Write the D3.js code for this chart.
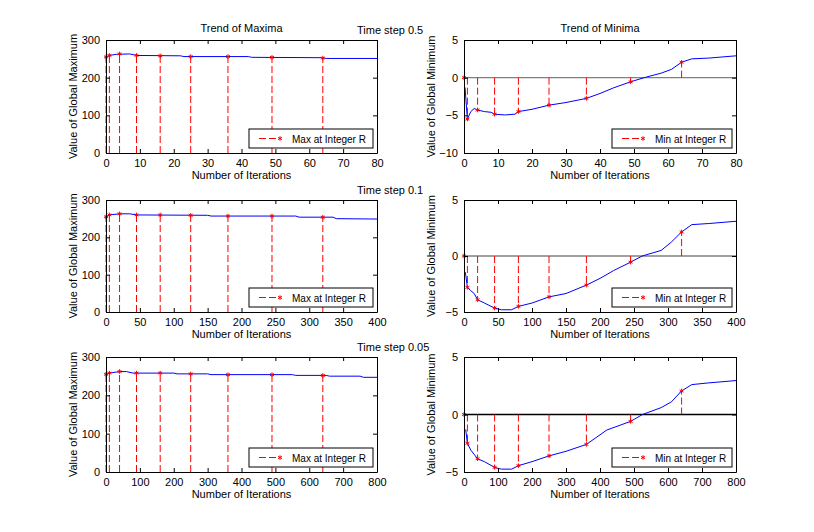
<!DOCTYPE html>
<html>
<head>
<meta charset="utf-8">
<script src="https://cdn.jsdelivr.net/npm/d3@7"></script>
<style>
  body { margin: 0; background: #fff; }
  svg { font-family: "Liberation Sans", Arial, sans-serif; }
</style>
</head>
<body>
<svg id="chart" width="814" height="532"></svg>
<script>
// ---- data ----
const stepLabels = ["Time step 0.5", "Time step 0.1", "Time step 0.05"];
const xMaxes = [80, 400, 800];
const xTickSteps = [10, 50, 100];

// blue curves, maxima
const maxX05 = [0, 1, 3, 7, 9, 22, 23, 42, 43, 64, 65, 80];
const maxY05 = [254, 259, 262, 263, 259, 258, 256, 256, 254, 253, 251, 251];
const maxX01 = [0, 5, 20, 35, 45, 150, 155, 280, 285, 335, 340, 400];
const maxY01 = [254, 260, 263, 263, 260, 259, 257, 257, 254, 254, 250, 249];
const maxX005 = [0, 10, 40, 60, 80, 200, 210, 300, 310, 550, 560, 650, 660, 750, 760, 800];
const maxY005 = [254, 258, 262, 262, 258, 258, 256, 256, 254, 254, 252, 252, 250, 250, 247, 247];

// blue curves, minima
const minX05 = [0.3, 1, 2, 3, 4, 6, 8, 9, 12, 15, 16, 20, 25, 30, 36, 40, 44, 49, 53, 58, 61, 64, 67, 72, 80];
const minY05 = [-1.3, -5.5, -4.5, -4.1, -4.3, -4.5, -4.6, -4.85, -4.95, -4.85, -4.5, -4.2, -3.65, -3.3, -2.75, -2.1, -1.35, -0.55, 0, 0.6, 1.1, 2.05, 2.5, 2.6, 2.9];
const minX01 = [2, 5, 10, 15, 20, 30, 45, 55, 70, 80, 100, 125, 150, 180, 200, 220, 245, 262, 290, 305, 320, 335, 360, 400];
const minY01 = [-1.45, -2.8, -3.1, -3.35, -3.9, -4.2, -4.65, -4.8, -4.8, -4.5, -4.2, -3.65, -3.35, -2.6, -2.0, -1.3, -0.55, 0, 0.5, 1.25, 2.15, 2.8, 2.9, 3.1];
const minX005 = [5, 10, 20, 40, 60, 90, 110, 140, 160, 200, 250, 300, 360, 420, 490, 525, 580, 610, 640, 670, 720, 800];
const minY005 = [-1.3, -2.5, -3.1, -3.85, -4.1, -4.6, -4.75, -4.75, -4.45, -4.1, -3.6, -3.2, -2.6, -1.35, -0.6, 0, 0.6, 1.1, 2.05, 2.6, 2.75, 2.95];

// red stems at integer R
const stemX05 = [0, 1, 4, 9, 16, 25, 36, 49, 64];
const stemX01 = [0, 5, 20, 45, 80, 125, 180, 245, 320];
const stemX005 = [0, 10, 40, 90, 160, 250, 360, 490, 640];
const stemMax05 = [255, 259, 263, 259, 258, 256, 256, 254, 252];
const stemMax01 = [255, 260, 263, 260, 260, 259, 257, 257, 254];
const stemMax005 = [255, 258, 262, 258, 258, 256, 254, 254, 252];
const stemMin05 = [0, -5.5, -4.3, -4.85, -4.5, -3.65, -2.75, -0.55, 2.05];
const stemMin01 = [0, -2.8, -3.9, -4.65, -4.5, -3.65, -2.6, -0.55, 2.15];
const stemMin005 = [0, -2.5, -3.85, -4.6, -4.45, -3.6, -2.6, -0.6, 2.05];

const maxYTicks = [0, 100, 200, 300];
const minYTicks1 = [-10, -5, 0, 5];
const minYTicks = [-5, 0, 5];

const zip = (xs, ys) => xs.map((x, i) => [x, ys[i]]);

const panels = [
  { row: 0, side: 0, curve: zip(maxX05, maxY05), stems: zip(stemX05, stemMax05), yDom: [0, 300], yTicks: maxYTicks,
    ylab: "Value of Global Maximum", leg: "Max at Integer R", title: "Trend of Maxima" },
  { row: 0, side: 1, curve: zip(minX05, minY05), stems: zip(stemX05, stemMin05), yDom: [-10, 5], yTicks: minYTicks1,
    ylab: "Value of Global Minimum", leg: "Min at Integer R", title: "Trend of Minima", zero: "#808080" },
  { row: 1, side: 0, curve: zip(maxX01, maxY01), stems: zip(stemX01, stemMax01), yDom: [0, 300], yTicks: maxYTicks,
    ylab: "Value of Global Maximum", leg: "Max at Integer R" },
  { row: 1, side: 1, curve: zip(minX01, minY01), stems: zip(stemX01, stemMin01), yDom: [-5, 5], yTicks: minYTicks,
    ylab: "Value of Global Minimum", leg: "Min at Integer R", zero: "#808080" },
  { row: 2, side: 0, curve: zip(maxX005, maxY005), stems: zip(stemX005, stemMax005), yDom: [0, 300], yTicks: maxYTicks,
    ylab: "Value of Global Maximum", leg: "Max at Integer R" },
  { row: 2, side: 1, curve: zip(minX005, minY005), stems: zip(stemX005, stemMin005), yDom: [-5, 5], yTicks: minYTicks,
    ylab: "Value of Global Minimum", leg: "Min at Integer R", zero: "#000" }
];

// ---- layout ----
const colX = [[106, 377], [464, 736]];
const rowY = [[40, 153], [200, 312], [357, 472]];

const svg = d3.select("#chart");
const star = d3.symbol().type(d3.symbolAsterisk).size(14);

panels.forEach(p => {
  const [x0, x1] = colX[p.side];
  const [y0, y1] = rowY[p.row];
  const x = d3.scaleLinear().domain([0, xMaxes[p.row]]).range([x0, x1]);
  const y = d3.scaleLinear().domain(p.yDom).range([y1, y0]);
  const g = svg.append("g");

  const xTicks = d3.range(0, xMaxes[p.row] + 1, xTickSteps[p.row]);

  // zero line on minima plots
  if (p.zero) {
    g.append("line").attr("x1", x0).attr("x2", x1).attr("y1", y(0)).attr("y2", y(0))
      .attr("stroke", p.zero).attr("stroke-width", 1.4);
  }

  // stems
  const base = p.side === 0 ? p.yDom[0] : 0;
  g.selectAll(".stem").data(p.stems).enter().append("line")
    .attr("x1", d => x(d[0])).attr("x2", d => x(d[0]))
    .attr("y1", y(base)).attr("y2", d => y(d[1]))
    .attr("stroke", "#ff0000").attr("stroke-width", 1)
    .attr("stroke-dasharray", "7,3");

  // curve
  g.append("path").datum(p.curve)
    .attr("d", d3.line().x(d => x(d[0])).y(d => y(d[1])))
    .attr("fill", "none").attr("stroke", "#0000ff").attr("stroke-width", 1);

  // markers
  g.selectAll(".mk").data(p.stems).enter().append("path")
    .attr("d", star)
    .attr("transform", d => `translate(${x(d[0])},${y(d[1])})`)
    .attr("fill", "none").attr("stroke", "#ff0000").attr("stroke-width", 1);

  // axes (MATLAB style inward ticks, box)
  const ax = g.append("g").attr("transform", `translate(0,${y1})`)
    .call(d3.axisBottom(x).tickValues(xTicks).tickSizeInner(-4).tickSizeOuter(0).tickPadding(6));
  const axT = g.append("g").attr("transform", `translate(0,${y0})`)
    .call(d3.axisTop(x).tickValues(xTicks).tickSizeInner(-4).tickSizeOuter(0).tickFormat(""));
  const ay = g.append("g").attr("transform", `translate(${x0},0)`)
    .call(d3.axisLeft(y).tickValues(p.yTicks).tickSizeInner(-4).tickSizeOuter(0).tickPadding(6));
  const ayR = g.append("g").attr("transform", `translate(${x1},0)`)
    .call(d3.axisRight(y).tickValues(p.yTicks).tickSizeInner(-4).tickSizeOuter(0).tickFormat(""));
  [ax, axT, ay, ayR].forEach(a => {
    a.select(".domain").attr("stroke", "#000");
    a.selectAll("line").attr("stroke", "#000");
    a.selectAll("text").attr("fill", "#000").style("font-size", "11px").style("font-family", "Liberation Sans, Arial, sans-serif");
  });

  // labels
  g.append("text").attr("x", (x0 + x1) / 2).attr("y", y1 + 26)
    .attr("text-anchor", "middle").style("font-size", "11px").text("Number of Iterations");
  g.append("text")
    .attr("transform", `translate(${x0 - 29},${(y0 + y1) / 2}) rotate(-90)`)
    .attr("text-anchor", "middle").style("font-size", "11px").text(p.ylab);
  if (p.title) {
    g.append("text").attr("x", (x0 + x1) / 2).attr("y", y0 - 8)
      .attr("text-anchor", "middle").style("font-size", "11px").text(p.title);
  }

  // legend
  const lw = p.side === 0 ? 124 : 120, lh = 19;
  const lx = x1 - 4 - lw, ly = y1 - 5 - lh;
  const lg = g.append("g").attr("transform", `translate(${lx},${ly})`);
  lg.append("rect").attr("width", lw).attr("height", lh).attr("fill", "#fff").attr("stroke", "#000");
  lg.append("line").attr("x1", 10).attr("x2", 31).attr("y1", lh / 2).attr("y2", lh / 2)
    .attr("stroke", "#ff0000").attr("stroke-dasharray", "7,3");
  lg.append("path").attr("d", star).attr("transform", `translate(31,${lh / 2})`)
    .attr("fill", "none").attr("stroke", "#ff0000");
  lg.append("text").attr("x", 43).attr("y", lh / 2 + 4).style("font-size", "10px").text(p.leg);
});

// time step captions
stepLabels.forEach((t, i) => {
  svg.append("text").attr("x", 357).attr("y", rowY[i][0] - 6)
    .style("font-size", "11px").text(t);
});
</script>
</body>
</html>
